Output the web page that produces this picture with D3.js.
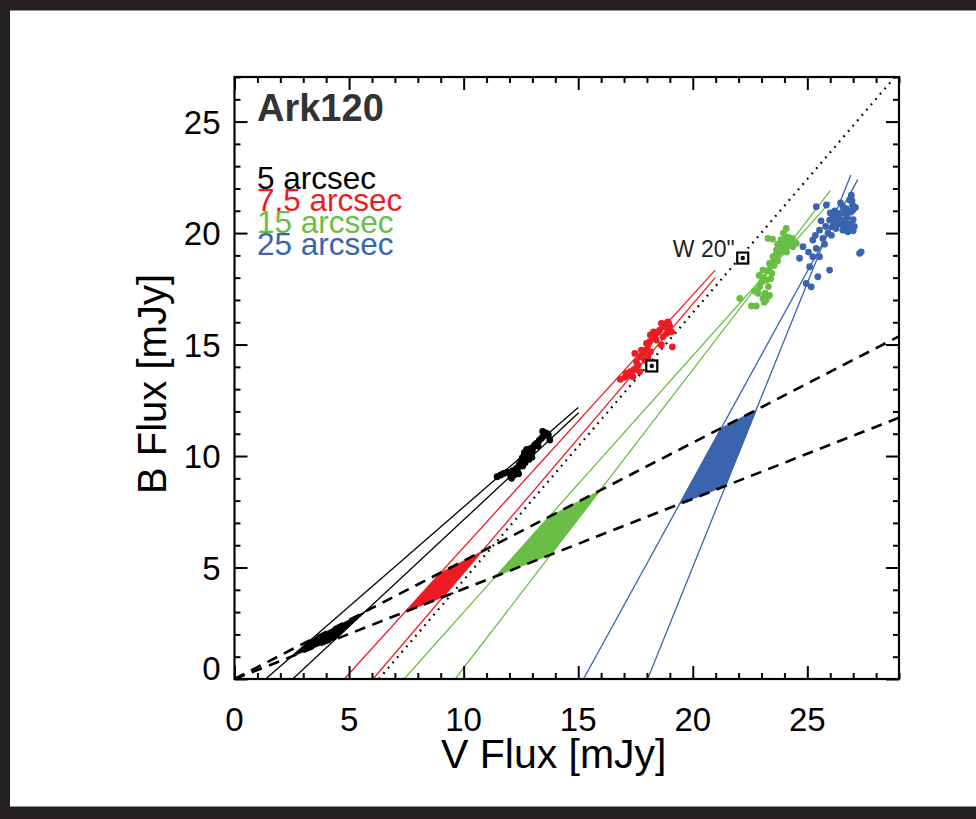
<!DOCTYPE html>
<html><head><meta charset="utf-8">
<script src="https://cdn.jsdelivr.net/npm/d3@7"></script>
<style>body{margin:0;background:#fff}svg{display:block}</style>
</head><body>
<svg id="c" width="976" height="819"></svg>
<script>
// ---- data ----
const xTicksMajor = [0,5,10,15,20,25];
const yTicksMajor = [0,5,10,15,20,25];
const xDomain = [0,29];
const yDomain = [0,27];
const title = "Ark120";
const legendLabels = ["5 arcsec","7.5 arcsec","15 arcsec","25 arcsec"];
const seriesNames = ["5","7.5","15","25"];
const colors = ["#000000","#ed1c24","#6abd45","#3a64ae"];

// colour-model dashed lines (V,B endpoints)
const dashUpper = [[0,0],[29,15.37]];
const dashLower = [[0,0],[29,11.72]];
// dotted reference line
const dotted = [[6.3,0],[28.9,27.1]];

// two fitted lines per aperture (V,B endpoints)
const fitBlack = [[[1.36,0],[15.0,12.18]], [[2.54,0],[15.02,11.94]]];
const fitRed   = [[[4.79,0],[20.98,18.34]], [[6.05,0],[20.98,18.0]]];
const fitGreen = [[[7.40,0],[26.0,21.4]], [[9.63,0],[26.0,21.9]]];
const fitBlue  = [[[15.23,0],[27.2,22.4]], [[18.03,0],[26.9,22.6]]];

const ptsBlack = [[11.46,9.07],[11.62,9.15],[11.75,9.22],[11.9,9.28],[12.05,9.1],[12.09,9.0],[12.15,9.35],[12.3,9.45],[12.35,9.37],[12.42,9.6],[12.5,9.75],[12.55,9.9],[12.6,9.82],[12.62,10.0],[12.68,9.7],[12.7,10.1],[12.72,9.9],[12.78,10.2],[12.8,10.0],[12.85,9.85],[12.88,10.27],[12.9,10.1],[12.95,10.35],[13.0,10.2],[13.05,10.4],[12.75,10.3],[12.65,10.15],[13.1,10.5],[13.18,10.57],[13.25,10.45],[13.3,10.7],[13.4,10.8],[13.5,10.9],[13.55,11.05],[13.62,11.02],[13.7,10.95],[13.76,10.72],[12.4,9.2],[12.58,9.55],[12.98,9.95],[13.45,11.1],[12.2,9.15]];
const ptsRed = [[16.84,13.44],[17.03,13.53],[17.22,13.63],[17.28,13.78],[17.42,13.86],[17.51,13.93],[17.61,14.08],[17.54,14.23],[17.47,14.6],[17.68,14.45],[17.83,14.6],[17.98,14.75],[18.05,14.98],[18.12,15.13],[18.26,15.28],[18.34,15.35],[18.41,15.5],[18.48,15.57],[18.56,15.65],[18.7,15.8],[18.77,15.87],[18.85,15.95],[18.92,16.02],[18.99,15.8],[19.07,15.57],[18.85,15.5],[18.63,14.98],[19.11,14.9],[18.15,14.68],[17.9,14.3],[17.68,13.78],[17.39,13.56],[17.1,13.71],[17.76,14.75],[18.05,14.45],[18.41,15.2],[18.7,15.35],[18.92,15.68],[17.98,15.05],[18.15,15.43],[18.29,15.57],[18.63,15.95],[18.96,15.92]];
const ptsGreen = [[22.05,17.07],[22.56,16.73],[22.77,16.73],[22.92,17.59],[23.06,17.07],[23.21,17.89],[23.06,18.34],[23.35,18.64],[23.5,18.94],[23.65,19.24],[23.93,19.54],[24.08,19.83],[24.08,20.21],[24.37,19.39],[24.52,19.54],[23.28,19.76],[23.48,19.73],[22.9,18.1],[23.0,17.8],[23.1,18.0],[23.15,17.3],[23.25,18.3],[23.3,17.6],[23.4,18.5],[23.45,18.2],[23.55,18.8],[23.6,19.0],[23.7,19.5],[23.75,19.1],[23.8,19.4],[23.85,19.7],[23.9,19.2],[24.0,19.6],[24.05,19.3],[24.15,19.5],[24.2,19.8],[24.25,19.45],[24.3,19.6],[23.2,17.0],[22.85,17.3],[23.12,16.9],[23.35,17.2],[23.55,18.55],[23.7,18.75],[24.1,19.15],[24.35,19.75],[23.95,20.0],[23.4,17.95],[22.7,17.4]];
const ptsBlue = [[24.81,19.39],[25.24,19.69],[25.39,21.18],[25.83,21.26],[26.12,20.73],[26.41,20.43],[26.7,20.88],[26.84,21.48],[26.92,21.7],[27.28,19.09],[27.35,19.16],[25.97,18.34],[25.46,18.04],[24.95,17.74],[25.17,17.59],[25.1,18.49],[24.66,18.87],[25.53,20.13],[26.1,20.28],[26.26,20.58],[26.55,20.13],[26.77,20.06],[26.99,21.03],[26.97,21.26],[26.55,21.18],[26.41,20.88],[25.97,20.58],[25.68,19.76],[25.39,19.31],[25.53,18.94],[25.24,18.94],[25.8,20.3],[25.9,20.0],[26.0,20.9],[26.2,21.0],[26.3,20.7],[26.35,20.4],[26.5,20.6],[26.6,20.9],[26.65,20.5],[26.75,20.7],[26.85,20.4],[26.9,20.95],[27.0,20.6],[27.05,20.3],[27.1,21.15],[26.45,21.35],[26.25,20.2],[26.05,19.9],[25.75,19.5],[25.6,20.55],[25.35,19.9],[25.05,19.15],[26.8,20.25],[27.0,20.1],[26.6,20.3],[26.15,20.55],[26.7,21.1],[26.95,21.45]];

const squares = [[22.18,18.88],[18.21,14.04]];
const squareLabel = "W 20\"";

const fits = [fitBlack, fitRed, fitGreen, fitBlue];
const pts = [ptsBlack, ptsRed, ptsGreen, ptsBlue];

// ---- drawing ----
const svg = d3.select("#c");
const W = 976, H = 819;
const frame = "#231f20";
svg.append("rect").attr("x",0).attr("y",0).attr("width",W).attr("height",H).attr("fill",frame);
svg.append("rect").attr("x",10).attr("y",10.5).attr("width",W-10).attr("height",796).attr("fill","#fff");

const L = 234.5, R = 899, T = 77, B = 679;
const x = d3.scaleLinear().domain(xDomain).range([L,R]);
const y = d3.scaleLinear().domain(yDomain).range([B,T]);

svg.append("clipPath").attr("id","clip").append("rect")
  .attr("x",L).attr("y",T).attr("width",R-L).attr("height",B-T);
const g = svg.append("g").attr("clip-path","url(#clip)");
const line = d3.line().x(d=>x(d[0])).y(d=>y(d[1]));

function intersect(a, b){
  const [p1,p2]=a, [p3,p4]=b;
  const x1=p1[0],y1=p1[1],x2=p2[0],y2=p2[1],x3=p3[0],y3=p3[1],x4=p4[0],y4=p4[1];
  const den=(x1-x2)*(y3-y4)-(y1-y2)*(x3-x4);
  const t=((x1-x3)*(y3-y4)-(y1-y3)*(x3-x4))/den;
  return [x1+t*(x2-x1), y1+t*(y2-y1)];
}

// filled parallelograms
fits.forEach((f,i)=>{
  const poly = [intersect(f[0],dashUpper), intersect(f[1],dashUpper), intersect(f[1],dashLower), intersect(f[0],dashLower)];
  g.append("path").attr("d", line(poly)+"Z").attr("fill",colors[i]).attr("stroke",colors[i]).attr("stroke-width",0.8);
});

// fit lines
fits.forEach((f,i)=>{
  f.forEach(l=>{
    g.append("path").attr("d",line(l)).attr("fill","none").attr("stroke",colors[i]).attr("stroke-width",1.3);
  });
});

// dashed and dotted
[dashUpper,dashLower].forEach(l=>{
  g.append("path").attr("d",line(l)).attr("fill","none").attr("stroke","#000")
   .attr("stroke-width",2.6).attr("stroke-dasharray","11,7.5");
});
g.append("path").attr("d",line(dotted)).attr("fill","none").attr("stroke","#000")
  .attr("stroke-width",2.2).attr("stroke-dasharray","1.8,5.2");

// scatter
pts.forEach((p,i)=>{
  g.selectAll(null).data(p).enter().append("circle")
   .attr("cx",d=>x(d[0])).attr("cy",d=>y(d[1])).attr("r",3.4).attr("fill",colors[i]);
});

// squares
squares.forEach(s=>{
  svg.append("rect").attr("x",x(s[0])-5.5).attr("y",y(s[1])-5.5).attr("width",11).attr("height",11)
    .attr("fill","#fff").attr("stroke","#000").attr("stroke-width",2.2);
  svg.append("circle").attr("cx",x(s[0])).attr("cy",y(s[1])).attr("r",2.2).attr("fill","#000");
});
svg.append("text").attr("x",x(squares[0][0])-8).attr("y",y(squares[0][1])-1)
  .attr("text-anchor","end").attr("font-family","Liberation Sans, Arial, sans-serif")
  .attr("font-size",23).attr("fill","#231f20").text(squareLabel);

// axes
const font = "Liberation Sans, Arial, sans-serif";
function styleAxis(sel){
  sel.select(".domain").remove();
  sel.selectAll("line").attr("stroke","#000").attr("stroke-width",2);
}
const minorX = d3.range(xDomain[0], xDomain[1]+1, 1).filter(v=>!xTicksMajor.includes(v));
const minorY = d3.range(yDomain[0], yDomain[1]+1, 1).filter(v=>!yTicksMajor.includes(v));

svg.append("g").attr("transform",`translate(0,${B})`).call(d3.axisBottom(x).tickValues(minorX).tickSize(-6).tickFormat("")).call(styleAxis);
svg.append("g").attr("transform",`translate(0,${B})`).call(d3.axisBottom(x).tickValues(xTicksMajor).tickSize(-13).tickFormat("")).call(styleAxis);
svg.append("g").attr("transform",`translate(0,${T})`).call(d3.axisTop(x).tickValues(minorX).tickSize(-6).tickFormat("")).call(styleAxis);
svg.append("g").attr("transform",`translate(0,${T})`).call(d3.axisTop(x).tickValues(xTicksMajor).tickSize(-13).tickFormat("")).call(styleAxis);
svg.append("g").attr("transform",`translate(${L},0)`).call(d3.axisLeft(y).tickValues(minorY).tickSize(-6).tickFormat("")).call(styleAxis);
svg.append("g").attr("transform",`translate(${L},0)`).call(d3.axisLeft(y).tickValues(yTicksMajor).tickSize(-13).tickFormat("")).call(styleAxis);
svg.append("g").attr("transform",`translate(${R},0)`).call(d3.axisRight(y).tickValues(minorY).tickSize(-6).tickFormat("")).call(styleAxis);
svg.append("g").attr("transform",`translate(${R},0)`).call(d3.axisRight(y).tickValues(yTicksMajor).tickSize(-13).tickFormat("")).call(styleAxis);

svg.append("rect").attr("x",L).attr("y",T).attr("width",R-L).attr("height",B-T)
  .attr("fill","none").attr("stroke","#000").attr("stroke-width",2.2);

// tick labels
svg.selectAll(null).data(xTicksMajor).enter().append("text")
  .attr("x",d=>x(d)).attr("y",B+52).attr("text-anchor","middle")
  .attr("font-family",font).attr("font-size",33).attr("fill","#000").text(d=>d);
svg.selectAll(null).data(yTicksMajor).enter().append("text")
  .attr("x",L-14).attr("y",d=>y(d)+12 - (d===0?11:0)).attr("text-anchor","end")
  .attr("font-family",font).attr("font-size",33).attr("fill","#000").text(d=>d);

// axis titles
svg.append("text").attr("x",(L+R)/2 - 13).attr("y",768).attr("text-anchor","middle")
  .attr("font-family",font).attr("font-size",41).attr("fill","#000").text("V Flux [mJy]");
svg.append("text").attr("transform",`translate(166,${(T+B)/2+6}) rotate(-90)`).attr("text-anchor","middle")
  .attr("font-family",font).attr("font-size",40).attr("fill","#000").text("B Flux [mJy]");

// title and legend
svg.append("text").attr("x",257).attr("y",121).attr("font-family",font).attr("font-weight","bold")
  .attr("font-size",38).attr("fill","#333").text(title);
legendLabels.forEach((t,i)=>{
  svg.append("text").attr("x",257).attr("y",189+i*22).attr("font-family",font)
    .attr("font-size",31.5).attr("fill",colors[i]).text(t);
});
</script>
</body></html>
